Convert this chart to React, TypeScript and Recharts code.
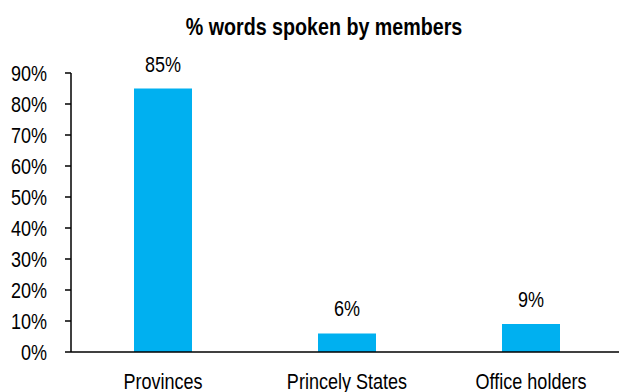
import { BarChart, Bar, XAxis, YAxis, LabelList } from 'recharts'

const categories = ['Provinces', 'Princely States', 'Office holders']
const shares = [85, 6, 9]
const yTicks = [0, 10, 20, 30, 40, 50, 60, 70, 80, 90]

const data = categories.map((name, i) => ({ name, value: shares[i] }))

const FONT = '"Liberation Sans", Arial, sans-serif'
// the source uses a condensed face; squeeze the regular one to match
const SQUEEZE = 0.82

function NarrowText({ x, y, anchor, size, bold, children }: any) {
    return (
        <text
            transform={`translate(${x},${y}) scale(${SQUEEZE},1)`}
            textAnchor={anchor}
            fontSize={size}
            fontWeight={bold ? 'bold' : 'normal'}
            fontFamily={FONT}
            fill="#000"
        >
            {children}
        </text>
    )
}

function YTick({ x, y, payload }: any) {
    return <NarrowText x={x - 16} y={y + 8} anchor="end" size={22}>{payload.value}%</NarrowText>
}

function XTick({ x, y, payload }: any) {
    return <NarrowText x={x} y={y + 29} anchor="middle" size={22}>{payload.value}</NarrowText>
}

function ValueLabel({ x, y, width, value }: any) {
    return <NarrowText x={x + width / 2} y={y - 17} anchor="middle" size={22}>{value}%</NarrowText>
}

export default function App() {
    return (
        <div style={{ position: 'absolute', left: 0, top: 0, width: 619, height: 392, overflow: 'hidden', background: '#fff' }}>
            <BarChart width={624} height={392} data={data} margin={{ top: 73, right: 1, bottom: 10, left: 0 }}>
                <NarrowText x={324} y={35} anchor="middle" size={24} bold>
                    % words spoken by members
                </NarrowText>
                <YAxis
                    width={71}
                    domain={[0, 90]}
                    ticks={yTicks}
                    interval={0}
                    axisLine={{ stroke: '#000', strokeWidth: 1.5 }}
                    tickLine={{ stroke: '#000', strokeWidth: 1.5 }}
                    tickSize={6}
                    tick={<YTick />}
                />
                <XAxis
                    dataKey="name"
                    height={30}
                    axisLine={{ stroke: '#000', strokeWidth: 1.5 }}
                    tickLine={false}
                    tick={<XTick />}
                    interval={0}
                />
                <Bar dataKey="value" fill="#00B0F0" barSize={58} isAnimationActive={false}>
                    <LabelList dataKey="value" content={<ValueLabel />} />
                </Bar>
            </BarChart>
        </div>
    )
}
